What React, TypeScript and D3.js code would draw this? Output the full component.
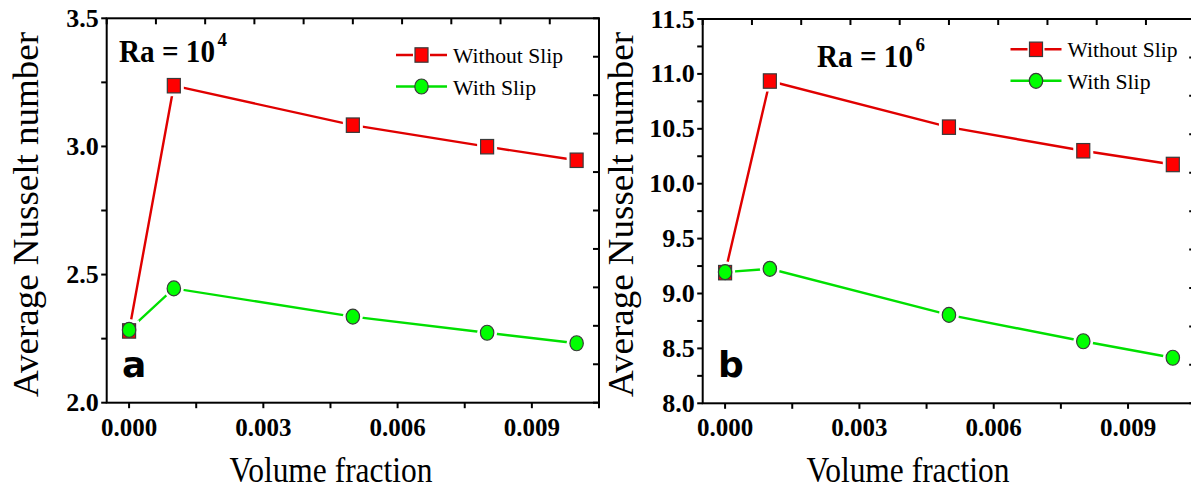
import React from "react";
import * as d3 from "d3";

const volumeFraction = [0, 0.001, 0.005, 0.008, 0.01];
const nuWithoutSlipRa4 = [2.28, 3.237, 3.083, 2.999, 2.946];
const nuWithSlipRa4 = [2.284, 2.446, 2.336, 2.273, 2.232];
const nuWithoutSlipRa6 = [9.19, 10.935, 10.515, 10.3, 10.175];
const nuWithSlipRa6 = [9.195, 9.225, 8.805, 8.565, 8.415];

const xMajorTicks = [0, 0.003, 0.006, 0.009];
const xMinorTicks = [0.0015, 0.0045, 0.0075, 0.0105];
const yTicksRa4 = [2.0, 2.5, 3.0, 3.5];
const yTicksRa6 = [8.0, 8.5, 9.0, 9.5, 10.0, 10.5, 11.0, 11.5];

const seriesNames = ["Without Slip", "With Slip"];

const SERIF = "'Liberation Serif', 'Times New Roman', serif";
const RED_LINE = "#e00000";
const RED_FILL = "#ff0000";
const GREEN_LINE = "#00e000";
const GREEN_FILL = "#00ff00";
const MARK_STROKE = "#3a3a3a";

type PanelProps = {
  left: number;
  top: number;
  width: number;
  height: number;
  yDomain: [number, number];
  yTicks: number[];
  red: number[];
  green: number[];
  raExp: string;
  raX: number;
  raY: number;
  legX: number;
  legY: number;
  letter: string;
  letterX: number;
  letterY: number;
  yTitleX: number;
  xTitleX: number;
};

function Square({ x, y, fill }: { x: number; y: number; fill: string }) {
  return <rect x={x - 6.5} y={y - 7.2} width={13} height={14.4} fill={fill} stroke={MARK_STROKE} strokeWidth={1.2} />;
}
function Circle({ x, y, fill }: { x: number; y: number; fill: string }) {
  return <ellipse cx={x} cy={y} rx={6.7} ry={7.5} fill={fill} stroke={MARK_STROKE} strokeWidth={1.2} />;
}

function Panel(p: PanelProps) {
  const x = d3.scaleLinear().domain([-0.0005, 0.0105]).range([p.left, p.left + p.width]);
  const y = d3.scaleLinear().domain(p.yDomain).range([p.top + p.height, p.top]);
  const line = d3
    .line<number>()
    .x((_, i) => x(volumeFraction[i]))
    .y((d) => y(d));
  const yMinor: number[] = [];
  for (let i = 0; i < p.yTicks.length - 1; i++) yMinor.push((p.yTicks[i] + p.yTicks[i + 1]) / 2);
  const bottom = p.top + p.height;
  const right = p.left + p.width;
  const mirror = d3.range(11).map((i) => i / 10);
  const tl = 5.5;
  return (
    <g>
      <path d={line(p.red) || ""} fill="none" stroke={RED_LINE} strokeWidth={2.4} />
      <path d={line(p.green) || ""} fill="none" stroke={GREEN_LINE} strokeWidth={2.4} />
      {p.red.map((v, i) => (
        <rect key={"hr" + i} x={x(volumeFraction[i]) - 10} y={y(v) - 10.5} width={20} height={21} fill="white" />
      ))}
      {p.green.map((v, i) => (
        <ellipse key={"hg" + i} cx={x(volumeFraction[i])} cy={y(v)} rx={10} ry={10.8} fill="white" />
      ))}
      {p.red.map((v, i) => (
        <Square key={"r" + i} x={x(volumeFraction[i])} y={y(v)} fill={RED_FILL} />
      ))}
      {p.green.map((v, i) => (
        <Circle key={"g" + i} x={x(volumeFraction[i])} y={y(v)} fill={GREEN_FILL} />
      ))}
      <rect x={p.left} y={p.top} width={p.width} height={p.height} fill="none" stroke="#000" strokeWidth={2} />
      {xMajorTicks.map((t) => (
        <g key={"xt" + t}>
          <line x1={x(t)} x2={x(t)} y1={bottom} y2={bottom + tl} stroke="#000" strokeWidth={2} />
          <text x={x(t)} y={bottom + 33} textAnchor="middle" fontFamily={SERIF} fontWeight="bold" fontSize={25}>
            {d3.format(".3f")(t)}
          </text>
        </g>
      ))}
      {xMinorTicks.map((t) => (
        <line key={"xm" + t} x1={x(t)} x2={x(t)} y1={bottom} y2={bottom + tl} stroke="#000" strokeWidth={2} />
      ))}
      {p.yTicks.map((t) => (
        <g key={"yt" + t}>
          <line x1={p.left - tl} x2={p.left} y1={y(t)} y2={y(t)} stroke="#000" strokeWidth={2} />
          <text x={p.left - 8} y={y(t) + 8.5} textAnchor="end" fontFamily={SERIF} fontWeight="bold" fontSize={26}>
            {d3.format(".1f")(t)}
          </text>
        </g>
      ))}
      {yMinor.map((t) => (
        <line key={"ym" + t} x1={p.left - tl} x2={p.left} y1={y(t)} y2={y(t)} stroke="#000" strokeWidth={2} />
      ))}
      {mirror.map((f) => (
        <g key={"m" + f}>
          <line x1={p.left + f * p.width} x2={p.left + f * p.width} y1={p.top} y2={p.top + 6} stroke="#000" strokeWidth={2} />
          <line x1={right} x2={right - 6} y1={p.top + f * p.height} y2={p.top + f * p.height} stroke="#000" strokeWidth={2} />
        </g>
      ))}
      <text x={p.raX} y={p.raY} fontFamily={SERIF} fontWeight="bold" fontSize={31}>
        <tspan textLength={96} lengthAdjust="spacingAndGlyphs">Ra = 10</tspan>
        <tspan dx={2.5} dy={-16} fontSize={19}>{p.raExp}</tspan>
      </text>
      <line x1={p.legX} x2={p.legX + 51} y1={p.legY} y2={p.legY} stroke={RED_LINE} strokeWidth={2.4} />
      <rect x={p.legX + 17} y={p.legY - 8} width={17} height={16} fill="white" />
      <Square x={p.legX + 25.5} y={p.legY} fill={RED_FILL} />
      <text x={p.legX + 57} y={p.legY + 8} fontFamily={SERIF} fontSize={21} textLength={110} lengthAdjust="spacingAndGlyphs">
        {seriesNames[0]}
      </text>
      <line x1={p.legX} x2={p.legX + 51} y1={p.legY + 31.5} y2={p.legY + 31.5} stroke={GREEN_LINE} strokeWidth={2.4} />
      <Circle x={p.legX + 25.5} y={p.legY + 31.5} fill={GREEN_FILL} />
      <text x={p.legX + 57} y={p.legY + 39.5} fontFamily={SERIF} fontSize={21} textLength={83} lengthAdjust="spacingAndGlyphs">
        {seriesNames[1]}
      </text>
      <text x={p.letterX} y={p.letterY} fontFamily="'DejaVu Sans', sans-serif" fontWeight="bold" fontSize={36}>
        {p.letter}
      </text>
      <text
        transform={`translate(${p.yTitleX},214.5) rotate(-90)`}
        textAnchor="middle"
        fontFamily={SERIF}
        fontSize={36}
        textLength={365}
        lengthAdjust="spacingAndGlyphs"
      >
        Average Nusselt number
      </text>
      <text x={p.xTitleX} y={482} textAnchor="middle" fontFamily={SERIF} fontSize={35} textLength={203} lengthAdjust="spacingAndGlyphs">
        Volume fraction
      </text>
    </g>
  );
}

export default function App() {
  return (
    <svg width={1191} height={489} style={{ position: "absolute", left: 0, top: 0, background: "white" }}>
      <rect width={1191} height={489} fill="white" />
      <Panel
        left={106.7}
        top={18.3}
        width={492.3}
        height={384.4}
        yDomain={[2.0, 3.5]}
        yTicks={yTicksRa4}
        red={nuWithoutSlipRa4}
        green={nuWithSlipRa4}
        raExp="4"
        raX={119}
        raY={62}
        legX={396}
        legY={55}
        letter="a"
        letterX={122}
        letterY={377}
        yTitleX={38}
        xTitleX={331}
      />
      <Panel
        left={702.7}
        top={19}
        width={492.5}
        height={384.3}
        yDomain={[8.0, 11.5]}
        yTicks={yTicksRa6}
        red={nuWithoutSlipRa6}
        green={nuWithSlipRa6}
        raExp="6"
        raX={817}
        raY={67}
        legX={1010.5}
        legY={49.3}
        letter="b"
        letterX={718}
        letterY={377}
        yTitleX={633}
        xTitleX={908}
      />
    </svg>
  );
}
